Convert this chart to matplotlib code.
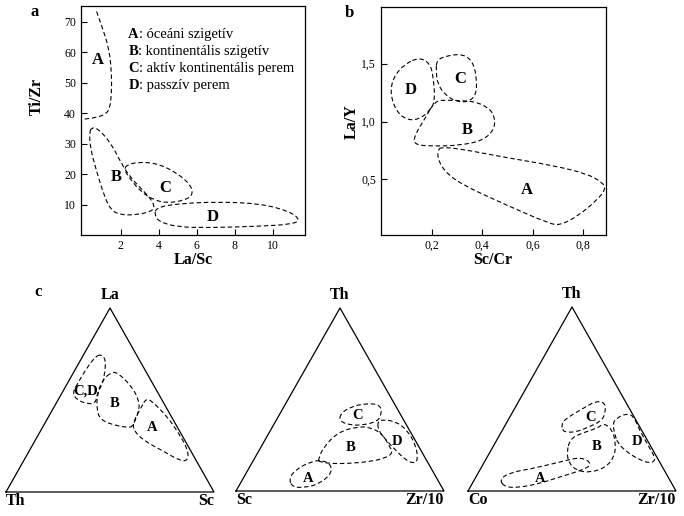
import numpy as np
import matplotlib.pyplot as plt
from matplotlib.path import Path
from matplotlib.patches import PathPatch

plt.rcParams['font.family'] = ['Liberation Serif', 'DejaVu Serif']

W, H = 684, 516

# ---- panel a : Ti/Zr vs La/Sc (outlines)
a_A = [(0.72, 73.4), (1.07, 67.3), (1.39, 60.8), (1.51, 53.1), (1.51, 46.5),
       (1.42, 41.6), (1.21, 39.7), (0.72, 38.6), (0.02, 38.0)]
a_B = [(0.44, 35.3), (0.79, 35.0), (1.49, 30.1), (2.02, 23.5), (2.54, 18.6),
       (3.33, 13.6), (3.68, 10.9), (3.77, 8.7), (3.51, 7.6), (2.89, 6.7),
       (2.02, 6.5), (1.49, 8.1), (1.14, 12.5), (0.70, 21.3), (0.38, 28.9), (0.35, 33.4)]
a_C = [(2.28, 22.9), (2.89, 24.0), (3.95, 23.5), (5.0, 20.2), (5.70, 16.3),
       (5.79, 13.1), (5.35, 11.4), (4.47, 10.5), (3.77, 11.4), (3.07, 14.1),
       (2.46, 18.6), (2.19, 21.3)]
a_D = [(3.86, 9.0), (5.0, 10.3), (7.1, 10.9), (9.39, 10.3), (10.96, 7.6),
       (11.46, 4.8), (10.96, 3.5), (9.39, 2.9), (6.75, 2.4), (5.0, 2.6),
       (4.04, 4.3), (3.77, 6.5)]
a_letters = ['A', 'B', 'C', 'D']
a_letter_xy = [(0.81, 57.5), (1.77, 19.1), (4.35, 15.3), (6.86, 5.9)]
legend_names = ['óceáni szigetív', 'kontinentális szigetív',
                'aktív kontinentális perem', 'passzív perem']
a_xticks = [2, 4, 6, 8, 10]
a_yticks = [10, 20, 30, 40, 50, 60, 70]

# ---- panel b : La/Y vs Sc/Cr
b_A = [(0.234, 0.779), (0.313, 0.765), (0.484, 0.693), (0.682, 0.62), (0.815, 0.549),
       (0.874, 0.477), (0.89, 0.42), (0.854, 0.32), (0.775, 0.178), (0.709, 0.106),
       (0.669, 0.115), (0.484, 0.29), (0.313, 0.463), (0.247, 0.58), (0.223, 0.693),
       (0.227, 0.75)]
b_B = [(0.214, 1.18), (0.26, 1.185), (0.33, 1.18), (0.372, 1.17), (0.418, 1.13),
       (0.448, 1.06), (0.451, 0.94), (0.405, 0.837), (0.313, 0.795), (0.207, 0.787),
       (0.128, 0.80), (0.135, 0.89), (0.175, 1.03)]
b_C = [(0.22, 1.53), (0.26, 1.57), (0.326, 1.584), (0.366, 1.51), (0.379, 1.357),
       (0.376, 1.23), (0.346, 1.17), (0.30, 1.17), (0.253, 1.23), (0.223, 1.33),
       (0.218, 1.44)]
b_D = [(0.154, 1.555), (0.194, 1.50), (0.207, 1.385), (0.214, 1.18), (0.194, 1.097),
       (0.154, 1.023), (0.108, 1.01), (0.062, 1.08), (0.036, 1.24), (0.049, 1.385),
       (0.095, 1.50)]
b_letters = ['A', 'B', 'C', 'D']
b_letter_xy = [(0.577, 0.413), (0.342, 0.925), (0.313, 1.37), (0.119, 1.27)]
b_xticks = [0.2, 0.4, 0.6, 0.8]
b_xticklabels = ['0,2', '0,4', '0,6', '0,8']
b_yticks = [0.5, 1.0, 1.5]
b_yticklabels = ['0,5', '1,0', '1,5']

# ---- panel c : ternaries, rows are (top, left, right) in %
t1_corners = ['La', 'Th', 'Sc']
t1_A = [(51, 7, 42), (49, 5, 46), (41, 2, 57), (32, 1, 67), (23, 1, 76), (17, 4, 79),
        (17, 8, 75), (22, 13, 65), (28, 20, 52), (34, 22, 44), (39, 19, 42), (46, 12, 42)]
t1_B = [(65, 17, 18), (65, 14, 21), (58, 11, 31), (50, 11, 39), (44, 14, 42), (36, 21, 43),
        (35, 23, 42), (36, 29, 35), (39, 35, 26), (45, 34, 21), (54, 29, 17), (61, 23, 16)]
t1_CD = [(75, 17, 8), (72, 16, 12), (65, 20, 15), (59, 24, 17), (54, 29, 17), (48, 33, 19),
         (48, 37, 15), (50, 41, 9), (54, 41, 5), (59, 36, 5), (66, 29, 5), (73, 21, 6)]
t1_letters = ['A', 'B', 'C,D']
t1_letter_pos = [(35, 12, 53), (48, 24, 28), (55, 34, 11)]

t2_corners = ['Th', 'Sc', 'Zr/10']
t2_A = [(7, 71, 22), (12, 65, 23), (16, 56, 28), (17, 50, 33), (14, 47, 39), (9, 50, 41),
        (4, 58, 38), (2, 65, 33), (2, 72, 26)]
t2_B = [(17, 52, 31), (24, 46, 30), (32, 35, 33), (35, 25, 40), (35, 18, 47), (31, 14, 55),
        (25, 14, 61), (21, 14, 65), (18, 19, 63), (16, 28, 56), (15, 39, 46), (15, 47, 38),
        (16, 52, 32)]
t2_C = [(42, 29, 29), (46, 22, 32), (48, 13, 39), (47, 7, 46), (42, 9, 49), (38, 13, 49),
        (36, 21, 43), (36, 27, 37), (38, 31, 31)]
t2_D = [(38, 13, 49), (39, 10, 51), (38, 4, 58), (33, 1, 66), (25, 1, 74), (17, 4, 79),
        (15, 7, 78), (17, 10, 73), (22, 12, 66), (28, 14, 58), (33, 15, 52)]
t2_letters = ['A', 'B', 'C', 'D']
t2_letter_pos = [(7, 62, 31), (24, 33, 43), (41, 21, 38), (27, 9, 64)]

t3_corners = ['Th', 'Co', 'Zr/10']
t3_A = [(6, 82, 12), (10, 75, 15), (12, 64, 24), (15, 51, 34), (17, 43, 40), (18, 38, 44),
        (17, 34, 49), (14, 34, 52), (12, 38, 50), (10, 44, 46), (7, 54, 39), (4, 64, 32),
        (2, 74, 24), (2, 81, 17)]
t3_B = [(28, 37, 35), (31, 31, 38), (34, 21, 45), (37, 16, 47), (33, 14, 53), (26, 16, 58),
        (19, 20, 61), (13, 27, 60), (10, 36, 54), (11, 42, 47), (15, 44, 41), (21, 42, 37)]
t3_C = [(36, 37, 27), (39, 34, 27), (44, 24, 32), (49, 14, 37), (48, 10, 42), (42, 13, 45),
        (38, 17, 45), (35, 24, 41), (32, 32, 36), (32, 37, 31), (33, 38, 29)]
t3_D = [(31, 14, 55), (37, 12, 51), (40, 8, 52), (42, 3, 55), (41, 0, 59), (33, 1, 66),
        (24, 1, 75), (17, 1, 82), (15, 5, 80), (17, 9, 74), (21, 13, 66), (26, 15, 59)]
t3_letters = ['A', 'B', 'C', 'D']
t3_letter_pos = [(7, 62, 31), (24, 26, 50), (40, 21, 39), (27, 5, 68)]

DASH = (0, (4, 2.5))
SQ3 = np.sqrt(3) / 2


def smooth(ax, pts, closed=True):
    p = np.asarray(pts, float)
    if closed:
        mids = (p + np.roll(p, -1, axis=0)) / 2
        verts = [mids[-1]]
        codes = [Path.MOVETO]
        for c, m in zip(p, mids):
            verts += [c, m]
            codes += [Path.CURVE3, Path.CURVE3]
    else:
        verts = [p[0], (p[0] + p[1]) / 2]
        codes = [Path.MOVETO, Path.LINETO]
        for i in range(1, len(p) - 1):
            verts += [p[i], (p[i] + p[i + 1]) / 2]
            codes += [Path.CURVE3, Path.CURVE3]
        verts.append(p[-1])
        codes.append(Path.LINETO)
    ax.add_patch(PathPatch(Path(verts, codes), fill=False, ec='black',
                           lw=0.8, ls=DASH))


def tern(rows):
    r = np.asarray(rows, float) / 100
    return np.column_stack([r[:, 2] + r[:, 0] / 2, r[:, 0] * SQ3])


fig = plt.figure(figsize=(W / 100, H / 100), dpi=100)


def box(l, t, r, b):
    return [l / W, 1 - b / H, (r - l) / W, (b - t) / H]


# ---- panel a
ax = fig.add_axes(box(81, 6, 305, 235))
ax.set_xlim(-0.1, 11.7)
ax.set_ylim(0, 75.2)
smooth(ax, a_A, closed=False)
for pts in (a_B, a_C, a_D):
    smooth(ax, pts)
for s, (x, y) in zip(a_letters, a_letter_xy):
    ax.text(x, y, s, ha='center', va='center', fontsize=12, fontweight='bold')
for i, (s, name) in enumerate(zip(a_letters, legend_names)):
    yy = (235 - (35 + i * 16.7)) / 229
    t = ax.text(0.211, yy, s, transform=ax.transAxes, fontsize=10.5,
                fontweight='bold', va='center', ha='left')
    ax.annotate(': ' + name, xy=(1, 0), xycoords=t, va='bottom', ha='left',
                fontsize=10.5)
ax.set_xticks(a_xticks)
ax.set_yticks(a_yticks)
ax.tick_params(direction='in', length=4, width=0.8, labelsize=8.5)
for sp in ax.spines.values():
    sp.set_linewidth(0.9)

# ---- panel b
bx = fig.add_axes(box(381, 7, 606, 235))
bx.set_xlim(0, 0.89)
bx.set_ylim(0.02, 1.99)
for pts in (b_A, b_B, b_C, b_D):
    smooth(bx, pts)
for s, (x, y) in zip(b_letters, b_letter_xy):
    bx.text(x, y, s, ha='center', va='center', fontsize=12, fontweight='bold')
bx.set_xticks(b_xticks, b_xticklabels)
bx.set_yticks(b_yticks, b_yticklabels)
bx.tick_params(direction='in', length=4, width=0.8, labelsize=8.5)
for sp in bx.spines.values():
    sp.set_linewidth(0.9)

fig.text(35 / W, 1 - 12 / H, 'a', fontsize=12, fontweight='bold', ha='center', va='center')
fig.text(349 / W, 1 - 13 / H, 'b', fontsize=12, fontweight='bold', ha='center', va='center')
fig.text(38 / W, 1 - 292 / H, 'c', fontsize=12, fontweight='bold', ha='center', va='center')
fig.text(37 / W, 1 - 96 / H, 'Ti/Zr', fontsize=11.5, fontweight='bold', rotation=90,
         ha='center', va='center')
fig.text(352 / W, 1 - 122 / H, 'La/Y', fontsize=11.5, fontweight='bold', rotation=90,
         ha='center', va='center')
fig.text(193 / W, 1 - 260 / H, 'La/Sc', fontsize=11.5, fontweight='bold', ha='center', va='center')
fig.text(493 / W, 1 - 260 / H, 'Sc/Cr', fontsize=11.5, fontweight='bold', ha='center', va='center')

# ---- panel c
ternaries = [
    ((6, 308, 214, 492), t1_corners, (t1_A, t1_B, t1_CD), t1_letters, t1_letter_pos),
    ((236, 308, 444, 491), t2_corners, (t2_A, t2_B, t2_C, t2_D), t2_letters, t2_letter_pos),
    ((468, 307, 676, 491), t3_corners, (t3_A, t3_B, t3_C, t3_D), t3_letters, t3_letter_pos),
]
for (l, t, r, b), corners, fields, letters, lpos in ternaries:
    tx = fig.add_axes(box(l, t, r, b))
    tx.set_xlim(0, 1)
    tx.set_ylim(0, SQ3)
    tx.axis('off')
    tx.plot([0, 1, 0.5, 0], [0, 0, SQ3, 0], color='black', lw=0.9, clip_on=False)
    for pts in fields:
        smooth(tx, tern(pts))
    for s, xy in zip(letters, tern(lpos)):
        tx.text(xy[0], xy[1], s, ha='center', va='center', fontsize=10.5,
                fontweight='bold')
    tx.text(0.5, SQ3 + 0.062, corners[0], ha='center', va='center',
            fontsize=11.5, fontweight='bold')
    tx.text(0.0, -0.042, corners[1], ha='left', va='center',
            fontsize=11.5, fontweight='bold')
    tx.text(1.0, -0.042, corners[2], ha='right', va='center',
            fontsize=11.5, fontweight='bold')

fig.savefig('out.png', dpi=100)
